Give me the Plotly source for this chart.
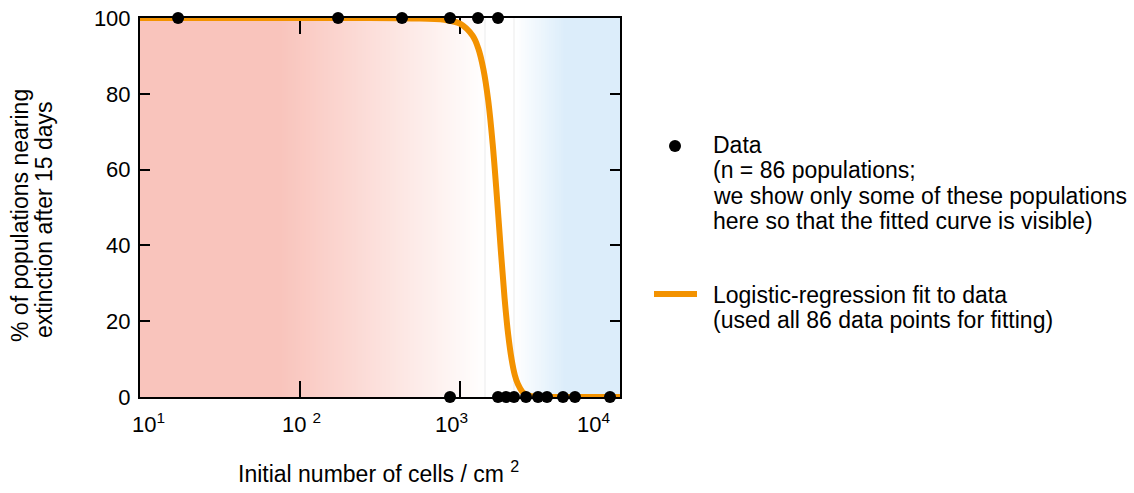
import plotly.graph_objects as go

# Observed populations: initial density (cells / cm^2) and outcome (% nearing extinction)
survived_x = [866, 1728, 1939, 2175, 2585, 3073, 3497, 4403, 5232, 8660]
survived_y = [0, 0, 0, 0, 0, 0, 0, 0, 0, 0]
extinct_x = [17.3, 173, 434, 866, 1296, 1728]
extinct_y = [100, 100, 100, 100, 100, 100]

# Logistic-regression fit, sampled along the density axis
fit_x = [10, 200, 500, 800, 1000, 1200, 1300, 1400, 1500, 1600, 1700, 1800,
         1900, 2000, 2100, 2200, 2300, 2450, 2600, 2800, 3200, 4000, 6000, 10000]
fit_y = [100, 100, 99.9, 99.5, 98.5, 95.3, 92.0, 86.5, 78.3, 66.8, 52.9, 38.6,
         26.0, 16.5, 10.0, 5.8, 3.4, 1.4, 0.6, 0.2, 0.0, 0.0, 0.0, 0.0]

x_tick_vals = [10, 100, 1000, 10000]
x_tick_text = ["10<sup>1</sup>", "10 <sup>2</sup>", "10<sup>3</sup>", "10<sup>4</sup>"]
y_tick_vals = [0, 20, 40, 60, 80, 100]

FONT = "Liberation Sans, Arial, sans-serif"
ORANGE = "#f39200"
W, H = 1134, 493
L, R, T, B = 140, 620, 18, 397  # plot-area edges in pixels


def px(x):
    return (x - L) / (R - L)


def py(y):
    return (B - y) / (B - T)


fig = go.Figure()

fig.add_trace(go.Scatter(x=fit_x, y=fit_y, mode="lines",
                         line=dict(color=ORANGE, width=6, shape="spline"),
                         cliponaxis=False, hoverinfo="skip"))
fig.add_trace(go.Scatter(x=extinct_x + survived_x, y=extinct_y + survived_y,
                         mode="markers", marker=dict(color="black", size=12),
                         cliponaxis=False))

shapes = []


def band(x0, x1, rgb):
    shapes.append(dict(type="rect", xref="paper", yref="paper",
                       x0=px(x0), x1=px(x1), y0=0, y1=1, layer="below",
                       line=dict(width=0),
                       fillcolor="rgb(%d,%d,%d)" % rgb))


red = (249, 196, 188)
blue = (220, 237, 250)
white = (255, 255, 255)

# low-density (red) side: solid, then fading out to white
band(L, 281, red)
steps = 103
for i in range(steps):
    a = 280 + i * 2
    t = (i + 0.5) / steps
    col = tuple(round(red[k] + (white[k] - red[k]) * t) for k in range(3))
    band(a, a + 2.2, col)

# high-density (blue) side: fading in from white, then solid
steps_b = 25
for i in range(steps_b):
    a = 515 + i * 2
    t = (i + 0.5) / steps_b
    col = tuple(round(white[k] + (blue[k] - white[k]) * t) for k in range(3))
    band(a, a + 2.2, col)
band(564, R, blue)

for xline in (485, 514):
    shapes.append(dict(type="line", xref="paper", yref="paper",
                       x0=px(xline), x1=px(xline), y0=0, y1=1, layer="below",
                       line=dict(color="#ebebeb", width=1)))

# legend glyphs
shapes.append(dict(type="circle", xref="paper", yref="paper",
                   xsizemode="pixel", ysizemode="pixel",
                   xanchor=px(675), yanchor=py(146),
                   x0=-6, x1=6, y0=-6, y1=6,
                   fillcolor="black", line=dict(width=0)))
shapes.append(dict(type="line", xref="paper", yref="paper",
                   x0=px(654), x1=px(697), y0=py(294), y1=py(294),
                   line=dict(color=ORANGE, width=6)))

annotations = []


def text(s, x, y, size=23, xanchor="left", yanchor="middle", angle=0):
    annotations.append(dict(text=s, x=px(x), y=py(y), xref="paper", yref="paper",
                            xanchor=xanchor, yanchor=yanchor, showarrow=False,
                            textangle=angle,
                            font=dict(family=FONT, size=size, color="black")))


legend_lines = [
    ("Data", 145),
    ("(n = 86 populations;", 170),
    ("we show only some of these populations", 196),
    ("here so that the fitted curve is visible)", 221),
    ("Logistic-regression fit to data", 295),
    ("(used all 86 data points for fitting)", 320),
]
for s, y in legend_lines:
    text(s, 711, y)

# x tick labels
tick_centres = [148, 301, 451, 593]
for lab, xc in zip(x_tick_text, tick_centres):
    text(lab, xc, 423, size=22, xanchor="center")

# axis titles
text("Initial number of cells / cm <sup>2</sup>", 378, 472, xanchor="center")
text("% of populations nearing", 20, 216, xanchor="center", angle=-90)
text("extinction after 15 days", 44, 220, xanchor="center", angle=-90)

axis_common = dict(showgrid=False, zeroline=False, showline=True,
                   linecolor="black", linewidth=2, mirror="ticks",
                   ticks="inside", tickcolor="black", tickwidth=2,
                   layer="below traces", automargin=False)

fig.update_layout(
    width=W, height=H, autosize=False,
    margin=dict(l=L, r=W - R, t=T, b=H - B, pad=0),
    paper_bgcolor="white", plot_bgcolor="white",
    showlegend=False,
    xaxis=dict(type="log", range=[1, 4], tickvals=x_tick_vals,
               showticklabels=False, ticklen=16, **axis_common),
    yaxis=dict(range=[0, 100], tickvals=y_tick_vals, ticklen=10,
               tickfont=dict(family=FONT, size=22, color="black"),
               ticklabelstandoff=3, **axis_common),
    shapes=shapes, annotations=annotations,
)

fig.write_html("out.html")
